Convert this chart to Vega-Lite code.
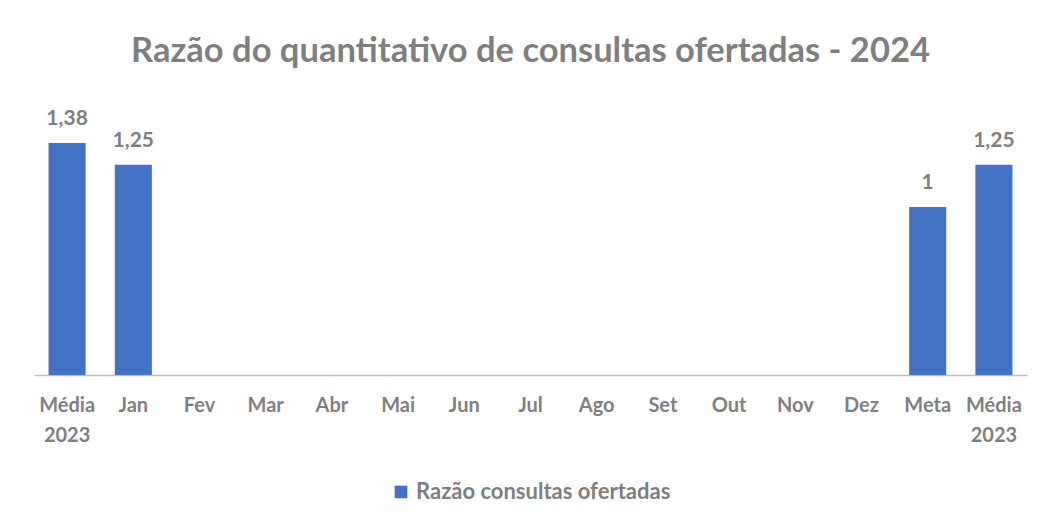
{
  "$schema": "https://vega.github.io/schema/vega-lite/v6.json",
  "width": 993,
  "height": 269,
  "autosize": {"type": "none"},
  "padding": {"left": 34, "top": 106, "right": 20, "bottom": 149},
  "background": "white",
  "config": {
    "view": {"stroke": null},
    "font": "Lato",
    "locale": {"number": {"decimal": ",", "thousands": ".", "grouping": [3], "currency": ["R$", ""]}},
    "legend": {"layout": {"bottom": {"anchor": "middle"}}}
  },
  "title": {
    "text": "Razão do quantitativo de consultas ofertadas - 2024",
    "anchor": "middle",
    "fontSize": 34.5,
    "fontWeight": "bold",
    "color": "#7f7f7f",
    "font": "Lato",
    "offset": 37
  },
  "data": {
    "values": [
      {"mes": "Média 2023", "serie": "Razão consultas ofertadas", "razao": 1.38},
      {"mes": "Jan", "serie": "Razão consultas ofertadas", "razao": 1.25},
      {"mes": "Fev", "serie": "Razão consultas ofertadas", "razao": null},
      {"mes": "Mar", "serie": "Razão consultas ofertadas", "razao": null},
      {"mes": "Abr", "serie": "Razão consultas ofertadas", "razao": null},
      {"mes": "Mai", "serie": "Razão consultas ofertadas", "razao": null},
      {"mes": "Jun", "serie": "Razão consultas ofertadas", "razao": null},
      {"mes": "Jul", "serie": "Razão consultas ofertadas", "razao": null},
      {"mes": "Ago", "serie": "Razão consultas ofertadas", "razao": null},
      {"mes": "Set", "serie": "Razão consultas ofertadas", "razao": null},
      {"mes": "Out", "serie": "Razão consultas ofertadas", "razao": null},
      {"mes": "Nov", "serie": "Razão consultas ofertadas", "razao": null},
      {"mes": "Dez", "serie": "Razão consultas ofertadas", "razao": null},
      {"mes": "Meta", "serie": "Razão consultas ofertadas", "razao": 1},
      {"mes": "Média 2023 ", "serie": "Razão consultas ofertadas", "razao": 1.25}
    ]
  },
  "encoding": {
    "x": {
      "field": "mes",
      "type": "nominal",
      "sort": null,
      "scale": {
        "domain": ["Média 2023", "Jan", "Fev", "Mar", "Abr", "Mai", "Jun", "Jul", "Ago", "Set", "Out", "Nov", "Dez", "Meta", "Média 2023 "],
        "paddingInner": 0.44,
        "paddingOuter": 0.22
      },
      "axis": {
        "title": null,
        "labelAngle": 0,
        "labelExpr": "indexof(datum.label, 'Média') === 0 ? ['Média', '2023'] : datum.label",
        "labelFontSize": 20,
        "labelFontWeight": "bold",
        "labelColor": "#808080",
        "labelFont": "Lato",
        "labelPadding": 20,
        "labelLineHeight": 30,
        "ticks": false,
        "domainColor": "#bfbfbf",
        "domainWidth": 1.5,
        "labelBound": false,
        "labelOverlap": false
      }
    },
    "y": {
      "field": "razao",
      "type": "quantitative",
      "scale": {"domain": [0, 1.6], "nice": false},
      "axis": null
    }
  },
  "layer": [
    {
      "mark": {"type": "bar", "color": "#4472c4"},
      "encoding": {
        "color": {
          "field": "serie",
          "type": "nominal",
          "scale": {"range": ["#4472c4"]},
          "legend": {
            "title": null,
            "orient": "bottom",
            "direction": "horizontal",
            "symbolType": "square",
            "symbolSize": 160,
            "labelFontSize": 22,
            "labelLimit": 500,
            "labelColor": "#7f7f7f",
            "labelFont": "Lato",
            "labelFontWeight": "bold",
            "offset": 36
          }
        }
      }
    },
    {
      "mark": {"type": "text", "dy": -14, "baseline": "bottom", "fontSize": 21, "fontWeight": "bold", "color": "#7f7f7f", "font": "Lato"},
      "encoding": {
        "text": {"field": "razao", "type": "quantitative", "format": ".2~f"}
      }
    }
  ]
}
